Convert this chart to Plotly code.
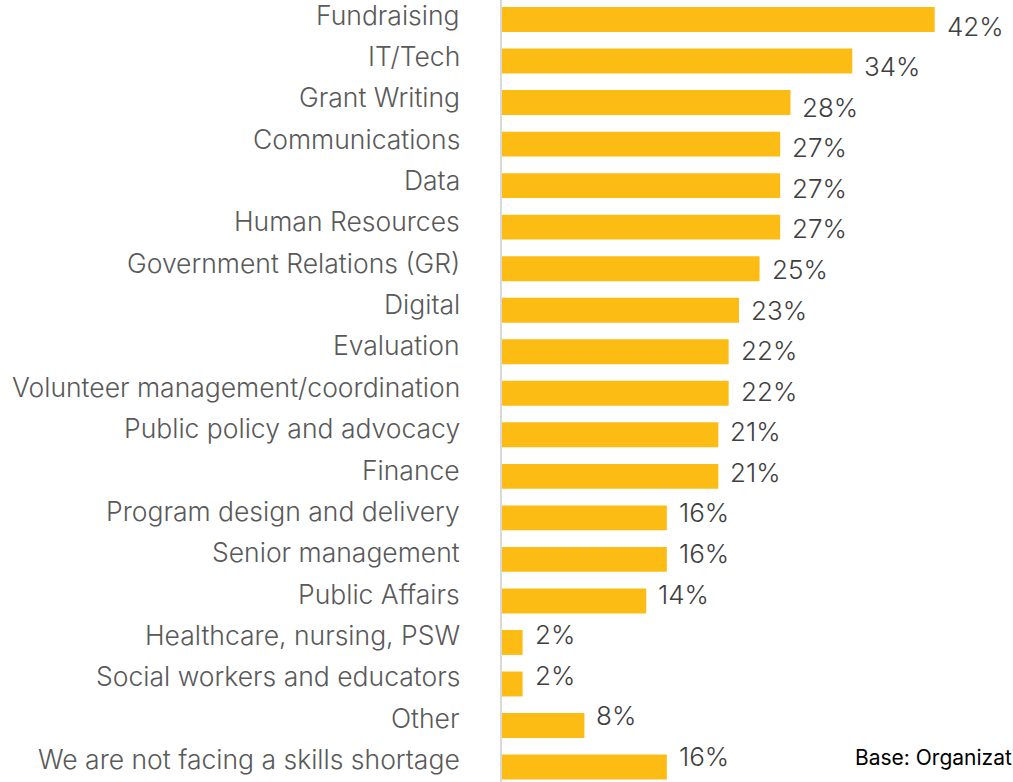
import plotly.graph_objects as go

# Skill areas, top to bottom, with the share of organisations reporting a shortage (%)
categories = [
    "Fundraising",
    "IT/Tech",
    "Grant Writing",
    "Communications",
    "Data",
    "Human Resources",
    "Government Relations (GR)",
    "Digital",
    "Evaluation",
    "Volunteer management/coordination",
    "Public policy and advocacy",
    "Finance",
    "Program design and delivery",
    "Senior management",
    "Public Affairs",
    "Healthcare, nursing, PSW",
    "Social workers and educators",
    "Other",
    "We are not facing a skills shortage",
]
values = [42, 34, 28, 27, 27, 27, 25, 23, 22, 22, 21, 21, 16, 16, 14, 2, 2, 8, 16]
base_note = "Base: Organizations"

BAR_COLOR = "#FCBC14"
LABEL_FONT = "Inter"

positions = list(range(len(categories)))

fig = go.Figure(
    go.Bar(
        x=values,
        y=positions,
        orientation="h",
        width=0.6,
        marker=dict(color=BAR_COLOR, line=dict(width=0)),
        hoverinfo="skip",
    )
)

annotations = []
for i, (cat, val) in enumerate(zip(categories, values)):
    # category name, right-aligned to the left of the axis line
    annotations.append(dict(
        x=0, y=i, xref="x", yref="y", text=cat, showarrow=False,
        xanchor="right", yanchor="middle", xshift=-40, yshift=5.0 + 0.16 * i,
        font=dict(family=LABEL_FONT, size=26.5, color="#595959", weight=300),
    ))
    # value label just past the bar end (label column is spaced a little tighter than the bars)
    annotations.append(dict(
        x=val, y=i, xref="x", yref="y", text=f"{val}%", showarrow=False,
        xanchor="left", yanchor="middle", xshift=10, yshift=-6.5 + 0.95 * i,
        font=dict(family=LABEL_FONT, size=26, color="#404040", weight=300),
    ))

annotations.append(dict(
    x=1, y=18, xref="paper", yref="y", text=base_note, showarrow=False,
    xanchor="left", yanchor="middle", xshift=-160, yshift=10,
    font=dict(family=LABEL_FONT, size=21, color="#000000"),
))

fig.update_layout(
    width=1013,
    height=782,
    margin=dict(l=502, r=0, t=0, b=0),
    paper_bgcolor="white",
    plot_bgcolor="white",
    showlegend=False,
    annotations=annotations,
    xaxis=dict(
        range=[0, 49.6], showgrid=False, zeroline=False,
        showticklabels=False, ticks="", showline=False,
    ),
    yaxis=dict(
        range=[18.36, -0.4695], showgrid=False, zeroline=False,
        showticklabels=False, ticks="", showline=True,
        linecolor="#D9D9D9", linewidth=2,
    ),
)

fig.write_html("out.html")
